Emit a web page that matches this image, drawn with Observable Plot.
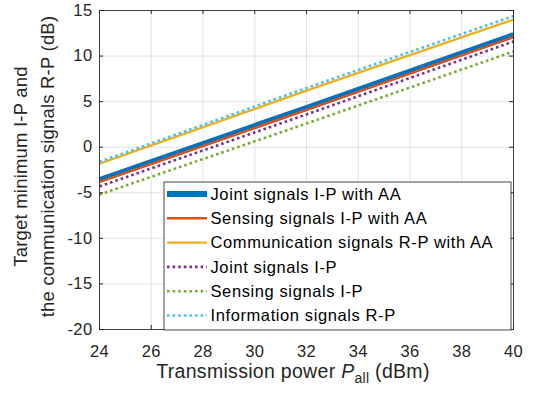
<!DOCTYPE html>
<html><head><meta charset="utf-8">
<script src="https://cdn.jsdelivr.net/npm/d3@7"></script>
<script src="https://cdn.jsdelivr.net/npm/@observablehq/plot@0.6"></script>
<style>
html,body{margin:0;padding:0;background:#fff;}
#chart{width:538px;height:395px;position:relative;}
</style>
</head><body><div id="chart"></div>
<script>
// ---- data ----
const xPower = [24, 32, 40];
const jointAA = [-3.6, 4.3, 12.3];
const sensingAA = [-3.8, 4.1, 12.1];
const commAA = [-1.8, 6.2, 14.0];
const jointIP = [-4.3, 3.6, 11.6];
const sensingIP = [-5.2, 2.6, 10.5];
const infoRP = [-1.6, 6.5, 14.4];

const seriesNames = [
  "Joint signals I-P with AA",
  "Sensing signals I-P with AA",
  "Communication signals R-P with AA",
  "Joint signals I-P",
  "Sensing signals I-P",
  "Information signals R-P"
];
const xTicks = [24, 26, 28, 30, 32, 34, 36, 38, 40];
const yTicks = [-20, -15, -10, -5, 0, 5, 10, 15];

// ---- styles ----
const seriesColors = ["#0072BD", "#D95319", "#EDB120", "#7E2F8E", "#77AC30", "#4DBEEE"];
const seriesWidths = [6, 2.4, 2.4, 2.6, 2.6, 2.6];
const seriesDash = [null, null, null, "2.6,3", "2.6,3", "2.6,3"];

const W = 538, H = 395;
const mL = 99, mR = 25, mT = 10, mB = 66;
const plotW = W - mL - mR, plotH = H - mT - mB;
const axisColor = "#262626";
const font = "'Liberation Sans', Arial, Helvetica, sans-serif";

const seriesValues = [jointAA, sensingAA, commAA, jointIP, sensingIP, infoRP];
const tables = seriesValues.map((arr, i) => arr.map((v, j) => ({x: xPower[j], y: v, s: seriesNames[i]})));

const lineMarks = tables.map((t, i) => Plot.line(t, {
  x: "x", y: "y",
  stroke: seriesColors[i],
  strokeWidth: seriesWidths[i],
  strokeDasharray: seriesDash[i] || undefined,
  strokeLinecap: "butt"
}));

const svg = Plot.plot({
  width: W, height: H,
  marginLeft: mL, marginRight: mR, marginTop: mT, marginBottom: mB,
  style: {fontFamily: font, background: "white", color: axisColor},
  x: {domain: [24, 40], label: null},
  y: {domain: [-20, 15], label: null},
  marks: [
    Plot.gridX(xTicks, {stroke: axisColor, strokeOpacity: 0.13, strokeWidth: 1}),
    Plot.gridY(yTicks, {stroke: axisColor, strokeOpacity: 0.13, strokeWidth: 1}),
    ...lineMarks,
    Plot.tickX(xTicks, {x: d => d, stroke: axisColor, insetTop: plotH - 4}),
    Plot.tickX(xTicks, {x: d => d, stroke: axisColor, insetBottom: plotH - 4}),
    Plot.tickY(yTicks, {y: d => d, stroke: axisColor, insetRight: plotW - 4}),
    Plot.tickY(yTicks, {y: d => d, stroke: axisColor, insetLeft: plotW - 4}),
    Plot.frame({stroke: axisColor, strokeOpacity: 0.85, strokeWidth: 1}),
    Plot.axisX(xTicks, {tickSize: 0, tickPadding: 16, fontSize: 16.5, fill: axisColor, label: null}),
    Plot.axisY(yTicks, {tickSize: 0, tickPadding: 7, fontSize: 16.5, fill: axisColor, label: null, tickFormat: d => String(d)})
  ]
});

const root = d3.select(svg);
root.selectAll("g[aria-label='x-axis tick label'] text, g[aria-label='y-axis tick label'] text")
  .attr("letter-spacing", "0.4px");

// axis labels
const xl = root.append("text")
  .attr("x", 293).attr("y", 378)
  .attr("text-anchor", "middle")
  .attr("font-size", 19.5).attr("letter-spacing", "0.3px").attr("fill", axisColor);
xl.append("tspan").text("Transmission power ");
xl.append("tspan").attr("font-style", "italic").text("P");
xl.append("tspan").attr("font-size", 14).attr("dy", 5).text("all");
xl.append("tspan").attr("dy", -5).text(" (dBm)");

const ylLines = ["Target minimum I-P and", "the communication signals R-P (dB)"];
const ylX = [27, 54];
ylLines.forEach((t, i) => {
  root.append("text")
    .attr("transform", `translate(${ylX[i]},${mT + plotH / 2 - 3}) rotate(-90)`)
    .attr("text-anchor", "middle")
    .attr("font-size", 18.5).attr("letter-spacing", "0.2px").attr("fill", axisColor)
    .text(t);
});

// legend
const lg = {x0: 164, y0: 182, x1: 511, y1: 330, row0: 194, rowStep: 24.3, s0: 167, s1: 207, tx: 210.5};
const leg = root.append("g");
leg.append("rect")
  .attr("x", lg.x0).attr("y", lg.y0)
  .attr("width", lg.x1 - lg.x0).attr("height", lg.y1 - lg.y0)
  .attr("fill", "white").attr("stroke", axisColor).attr("stroke-opacity", 0.85).attr("stroke-width", 1);
seriesNames.forEach((name, i) => {
  const y = lg.row0 + i * lg.rowStep;
  leg.append("line")
    .attr("x1", lg.s0).attr("x2", lg.s1).attr("y1", y).attr("y2", y)
    .attr("stroke", seriesColors[i]).attr("stroke-width", seriesWidths[i])
    .attr("stroke-dasharray", seriesDash[i]);
  leg.append("text")
    .attr("x", lg.tx).attr("y", y).attr("dy", "0.35em")
    .attr("text-anchor", "start")
    .attr("font-size", 16.5).attr("letter-spacing", "0.6px").attr("fill", "#000")
    .text(name);
});

document.getElementById("chart").appendChild(svg);
</script>
</body></html>
